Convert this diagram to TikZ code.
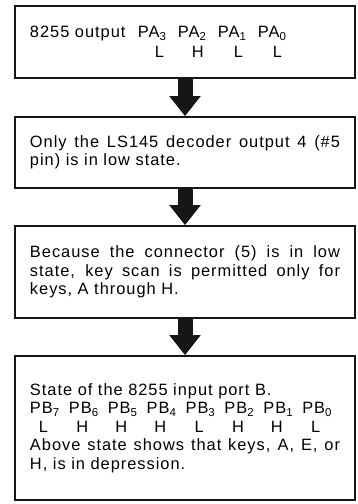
\documentclass[tikz,border=0pt]{standalone}
\usepackage{fontspec}
\setmainfont{Liberation Sans}[LetterSpace=6]
\usetikzlibrary{arrows.meta,positioning,shadows}
\definecolor{flowInk}{RGB}{22,22,22}
\definecolor{flowPaper}{RGB}{255,255,255}
\newcommand{\flowfont}{\fontsize{16.4pt}{18.5pt}\selectfont}
\newcommand{\pacell}[1]{\makebox[40pt][l]{#1}}
\newcommand{\pbcell}[1]{\makebox[38.9pt][l]{#1}}
\newcommand{\pblevel}[1]{\makebox[38.9pt][l]{\makebox[27pt][c]{#1}}}

\begin{document}
\begin{tikzpicture}[x=1pt, y=1pt,
  stepbox/.style={draw=flowInk, fill=flowPaper, line width=1.6pt,
                  text width=310pt, inner xsep=15pt, inner ysep=0pt,
                  align=justify, font=\flowfont,
                  general shadow={fill=flowInk, shadow xshift=-1.4pt,
                                  shadow yshift=-1.4pt}},
  bigarr/.style={-{Triangle[width=30pt,length=20pt]}, line width=15pt,
                 flowInk},
]
\useasboundingbox (0,0) rectangle (357,504);

%% boxes, top to bottom
\node[stepbox, minimum height=72pt] (out) at (185, 462)
  {\makebox[108pt][l]{8255 output}\pacell{PA\textsubscript{3}}\pacell{PA\textsubscript{2}}\pacell{PA\textsubscript{1}}\pacell{PA\textsubscript{0}}\\[1.5pt]
   \hspace*{108pt}\pacell{\hspace{17pt}L}\pacell{\hspace{14pt}H}\pacell{\hspace{16pt}L}\pacell{\hspace{15pt}L}};

\node[stepbox, minimum height=71pt] (dec) at (185, 351.5)
  {Only the LS145 decoder output 4 (\#5\linebreak
   pin) is in low state.};

\node[stepbox, minimum height=92pt] (scan) at (185, 232)
  {Because the connector (5) is in low\linebreak
   state, key scan is permitted only for\linebreak
   keys, A through H.};

\node[stepbox, minimum height=144pt] (portb) at (185, 76)
  {State of the 8255 input port B.\\
   \pbcell{PB\textsubscript{7}}\pbcell{PB\textsubscript{6}}\pbcell{PB\textsubscript{5}}\pbcell{PB\textsubscript{4}}\pbcell{PB\textsubscript{3}}\pbcell{PB\textsubscript{2}}\pbcell{PB\textsubscript{1}}\pbcell{PB\textsubscript{0}}\\
   \pblevel{L}\pblevel{H}\pblevel{H}\pblevel{H}\pblevel{L}\pblevel{H}\pblevel{H}\pblevel{L}\\
   Above state shows that keys, A, E, or\linebreak
   H, is in depression.};

%% block arrows between the steps
\draw[bigarr] (out.south) -- (dec.north);
\draw[bigarr] (dec.south) -- (scan.north);
\draw[bigarr] (scan.south) -- (portb.north);

\end{tikzpicture}
\end{document}
